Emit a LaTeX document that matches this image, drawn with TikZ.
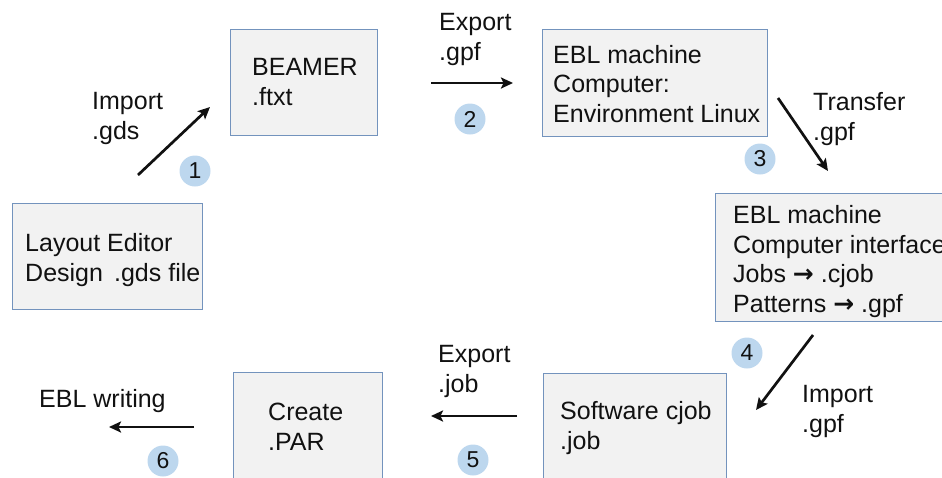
\documentclass[tikz,border=0pt]{standalone}
\usepackage{fontspec}
\setmainfont{Liberation Sans}
\newfontfamily\symfont{DejaVu Sans}
\usetikzlibrary{arrows.meta}
\definecolor{boxfill}{HTML}{F2F2F2}
\definecolor{boxline}{HTML}{7393BD}
\definecolor{badgefill}{HTML}{BDD7EE}
\definecolor{ink}{HTML}{111111}
\newcommand{\toarrow}{{\symfont\bfseries →}}
\begin{document}
\begin{tikzpicture}[x=1pt,y=-1pt,
  box/.style={draw=boxline, fill=boxfill, line width=1.2pt, anchor=north west, inner sep=0pt},
  txt/.style={font=\fontsize{25}{29.5}\selectfont, text=ink, align=left, anchor=base west, inner sep=0pt},
  badge/.style={circle, fill=badgefill, minimum size=31pt, inner sep=0pt, font=\fontsize{23}{26}\selectfont, text=ink},
  flow/.style={-{Stealth[length=12pt,width=11pt,inset=2.5pt]}, line width=2.7pt, draw=ink}]
\useasboundingbox (0,0) rectangle (942,477);
\clip (0,0) rectangle (942,477);
% boxes
\node[box, minimum width=190pt, minimum height=106pt] (b1) at (12,203) {};
\node[box, minimum width=147pt, minimum height=106pt] (b2) at (230,29) {};
\node[box, minimum width=225pt, minimum height=107pt] (b3) at (542,29) {};
\node[box, minimum width=250pt, minimum height=128pt] (b4) at (715,193) {};
\node[box, minimum width=183pt, minimum height=130pt] (b5) at (543,373) {};
\node[box, minimum width=149pt, minimum height=130pt] (b6) at (233,372) {};
% box texts (anchored at the baseline of the last line)
\node[txt] (t1) at (25,281) {Layout Editor\\Design \,.gds file};
\node[txt] (t2) at (252,105) {BEAMER\\.ftxt};
\node[txt] (t3) at (553,122) {EBL machine\\Computer:\\Environment Linux};
\node[txt] (t4) at (733,312) {EBL machine\\Computer interface\\Jobs \toarrow{} .cjob\\Patterns \toarrow{} .gpf};
\node[txt] (t5) at (560,449) {Software cjob\\.job};
\node[txt] (t6) at (268,450) {Create\\.PAR};
% arrow end points
\coordinate (a1s) at (138,175); \coordinate (a1e) at (210,107);
\coordinate (a2s) at (431,83);  \coordinate (a2e) at (513,83);
\coordinate (a3s) at (778,98);  \coordinate (a3e) at (828,171);
\coordinate (a4s) at (813,335); \coordinate (a4e) at (756,410);
\coordinate (a5s) at (517,416); \coordinate (a5e) at (431,416);
\coordinate (a6s) at (194,427); \coordinate (a6e) at (109,427);
\draw[flow] (a1s) -- (a1e);
\draw[flow] (a2s) -- (a2e);
\draw[flow] (a3s) -- (a3e);
\draw[flow] (a4s) -- (a4e);
\draw[flow] (a5s) -- (a5e);
\draw[flow] (a6s) -- (a6e);
% arrow labels
\node[txt] (l1) at (92,139) {Import\\.gds};
\node[txt] (l2) at (439,60) {Export\\.gpf};
\node[txt] (l3) at (813,140) {Transfer\\.gpf};
\node[txt] (l4) at (802,432) {Import\\.gpf};
\node[txt] (l5) at (438,392) {Export\\.job};
\node[txt] (l6) at (39,407) {EBL writing};
% badges
\node[badge] (n1) at (195,171) {1};
\node[badge] (n2) at (470,119) {2};
\node[badge] (n3) at (760,159) {3};
\node[badge] (n4) at (747,353) {4};
\node[badge] (n5) at (473,460) {5};
\node[badge] (n6) at (163,461) {6};
\end{tikzpicture}
\end{document}
